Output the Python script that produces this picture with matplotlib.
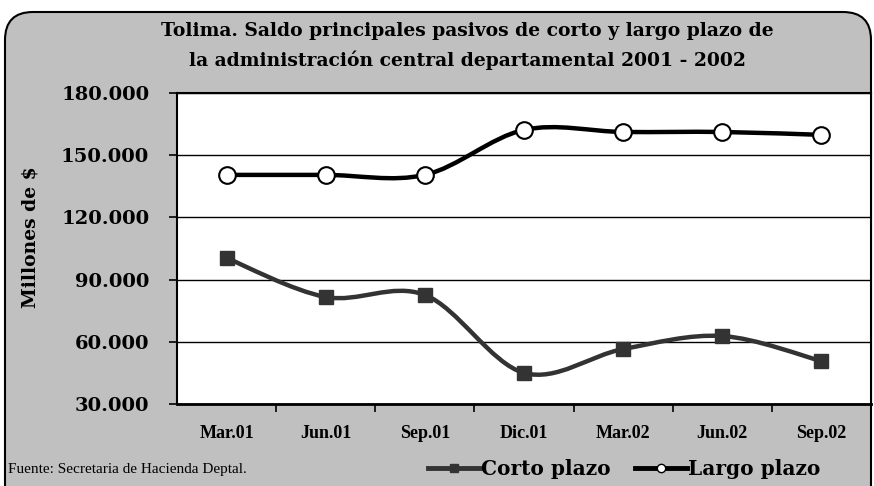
import numpy as np
import matplotlib.pyplot as plt
from matplotlib.path import Path
from matplotlib.patches import PathPatch, FancyBboxPatch
from matplotlib.lines import Line2D
from matplotlib.transforms import IdentityTransform

# datos (millones de $)
periodos = ['Mar.01', 'Jun.01', 'Sep.01', 'Dic.01', 'Mar.02', 'Jun.02', 'Sep.02']
corto = [100400, 81600, 82600, 45000, 56500, 62800, 50700]
largo = [140500, 140500, 140500, 162200, 161200, 161200, 159800]
yticks = [30000, 60000, 90000, 120000, 150000, 180000]
ytick_labels = ['30.000', '60.000', '90.000', '120.000', '150.000', '180.000']

serif = 'Liberation Serif'
wide = 'DejaVu Serif'


def smooth_path(xs, ys):
    # curva suavizada tipo Excel (Bezier con tangentes Catmull-Rom)
    p = np.column_stack([xs, ys]).astype(float)
    ext = np.vstack([p[0], p, p[-1]])
    verts = [p[0]]
    codes = [Path.MOVETO]
    for i in range(len(p) - 1):
        p0, p1, p2, p3 = ext[i], ext[i + 1], ext[i + 2], ext[i + 3]
        verts += [p1 + (p2 - p0) / 6, p2 - (p3 - p1) / 6, p2]
        codes += [Path.CURVE4] * 3
    return Path(verts, codes)


fig = plt.figure(figsize=(8.74, 4.86), dpi=100, facecolor='white')

# marco redondeado gris
frame = FancyBboxPatch((5, -30), 866, 504, boxstyle='round,pad=0,rounding_size=28',
                       transform=IdentityTransform(), facecolor='#c0c0c0',
                       edgecolor='black', linewidth=1.5, zorder=-5)
fig.patches.append(frame)

ax = fig.add_axes([177 / 874, 1 - 404 / 486, 694 / 874, 311 / 486])
ax.set_facecolor('white')

x = np.arange(len(periodos))

ax.add_patch(PathPatch(smooth_path(x, corto), fill=False, edgecolor='#333333',
                       linewidth=3.2, zorder=3))
ax.plot(x, corto, linestyle='none', marker='s', markersize=10,
        color='#333333', zorder=4)

ax.add_patch(PathPatch(smooth_path(x, largo), fill=False, edgecolor='black',
                       linewidth=3.2, zorder=3))
ax.plot(x, largo, linestyle='none', marker='o', markersize=12,
        markerfacecolor='white', markeredgecolor='black', markeredgewidth=1.5, zorder=4)

ax.set_xlim(-0.5, len(periodos) - 0.5)
ax.set_ylim(30000, 180000)
ax.set_yticks(yticks)
ax.set_yticklabels(ytick_labels, fontfamily=wide, fontweight='bold', fontsize=14)
ax.tick_params(axis='y', direction='out', length=6, width=1.2, pad=14)
ax.set_xticks(x)
ax.set_xticklabels(periodos, fontfamily=serif, fontweight='bold', fontsize=13)
ax.set_xticks(np.arange(0.5, len(periodos) - 1), minor=True)
ax.tick_params(axis='x', which='major', length=0, pad=15)
ax.tick_params(axis='x', which='minor', direction='out', length=6, width=1.2)
ax.grid(axis='y', color='black', linewidth=1)
ax.set_axisbelow(True)
for s in ax.spines.values():
    s.set_linewidth(1.5)
ax.spines['bottom'].set_linewidth(2)

ax.set_ylabel('Millones de $', fontfamily=wide, fontweight='bold', fontsize=13.5)
ax.yaxis.set_label_coords((40 - 177) / 694, (404 - 237) / 311)

fig.text(467 / 874, 1 - 31 / 486,
         'Tolima. Saldo principales pasivos de corto y largo plazo de',
         ha='center', va='center', fontfamily=wide, fontweight='bold', fontsize=13.5)
fig.text(467 / 874, 1 - 60 / 486,
         'la administración central departamental 2001 - 2002',
         ha='center', va='center', fontfamily=wide, fontweight='bold', fontsize=13.5)

fig.text(8 / 874, 1 - 469 / 486, 'Fuente: Secretaria de Hacienda Deptal.',
         ha='left', va='center', fontfamily=serif, fontsize=11)

handles = [
    Line2D([], [], color='#333333', linewidth=3.5, marker='s', markersize=6),
    Line2D([], [], color='black', linewidth=3.5, marker='o', markersize=6,
           markerfacecolor='white', markeredgecolor='black'),
]
fig.legend(handles, ['Corto plazo', 'Largo plazo'], loc='center',
           bbox_to_anchor=(624 / 874, 1 - 469 / 486), ncol=2, frameon=False,
           prop={'family': wide, 'weight': 'bold', 'size': 14.5},
           handlelength=2.6, handletextpad=0.05, columnspacing=1.2)

fig.savefig('out.png', dpi=100, facecolor='white')
